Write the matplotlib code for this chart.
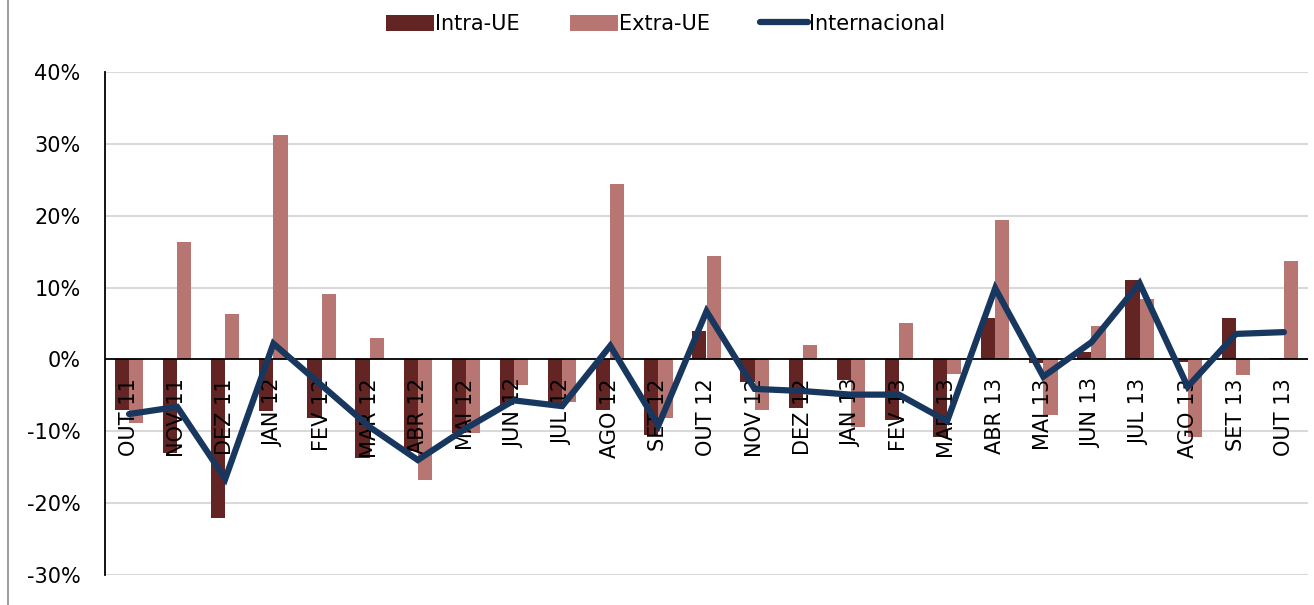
import numpy as np
import matplotlib
matplotlib.use("Agg")
import matplotlib.pyplot as plt
from matplotlib.lines import Line2D
from matplotlib.patches import Patch
from matplotlib.transforms import offset_copy

plt.rcParams['font.family'] = ['DejaVu Sans']

months = ["OUT 11", "NOV 11", "DEZ 11", "JAN 12", "FEV 12", "MAR 12", "ABR 12",
          "MAI 12", "JUN 12", "JUL 12", "AGO 12", "SET 12", "OUT 12", "NOV 12",
          "DEZ 12", "JAN 13", "FEV 13", "MAR 13", "ABR 13", "MAI 13", "JUN 13",
          "JUL 13", "AGO 13", "SET 13", "OUT 13"]

intra_ue = [-7.0, -13.0, -22.0, -7.2, -8.2, -13.7, -12.7, -10.3, -6.4, -6.5,
            -7.0, -10.5, 3.9, -3.2, -6.7, -2.9, -8.4, -10.8, 5.8, -0.5,
            1.0, 11.0, -0.4, 5.8, 0.2]

extra_ue = [-8.9, 16.3, 6.3, 31.3, 9.1, 2.95, -16.8, -10.2, -3.6, -5.9,
            24.4, -8.2, 14.4, -7.0, 2.0, -9.4, 5.1, -2.0, 19.4, -7.8,
            4.6, 8.4, -10.8, -2.1, 13.65]

internacional = [-7.6, -6.6, -16.6, 2.2, -3.6, -9.4, -14.0, -9.6, -5.7, -6.5,
                 1.9, -9.2, 6.7, -4.1, -4.4, -4.9, -4.9, -8.6, 9.9, -2.4,
                 2.4, 10.6, -3.8, 3.55, 3.8]

y_ticks = [-30, -20, -10, 0, 10, 20, 30, 40]

c_intra = "#632523"
c_extra = "#B87672"
c_line = "#17375E"

fig = plt.figure(figsize=(13.14, 6.05), dpi=100)
ax = fig.add_axes([105 / 1314, 1 - 575 / 605, 1203 / 1314, (575 - 72) / 605])

x = np.arange(len(months))
w = 0.295
ax.bar(x - w / 2, intra_ue, width=w, color=c_intra, zorder=2)
ax.bar(x + w / 2, extra_ue, width=w, color=c_extra, zorder=2)

# month labels sit just under the zero line, rotated
trans = offset_copy(ax.transData, fig=fig, x=0, y=-19, units='dots')
for xi, m in zip(x, months):
    ax.text(xi, 0, m, rotation=90, ha='center', va='top', fontsize=15,
            color='black', transform=trans, zorder=3)

ax.plot(x, internacional, color=c_line, lw=4.5, solid_capstyle='round',
        solid_joinstyle='miter', zorder=4)

ax.set_xlim(-0.5, len(months) - 0.5)
ax.set_ylim(-30, 40)
ax.set_yticks(y_ticks)
ax.set_yticklabels([f"{v}%" for v in y_ticks], fontsize=15)
ax.set_xticks([])
ax.tick_params(axis='y', length=0, pad=17.5)

for v in y_ticks:
    if v != 0:
        ax.axhline(v, color="#D9D9D9", lw=1.5, zorder=1)
ax.axhline(0, color="black", lw=1.3, zorder=2.5)

for s in ['top', 'right', 'bottom']:
    ax.spines[s].set_visible(False)
ax.spines['left'].set_color('black')
ax.spines['left'].set_linewidth(1.3)

handles = [Patch(facecolor=c_intra, edgecolor='none'),
           Patch(facecolor=c_extra, edgecolor='none'),
           Line2D([0], [0], color=c_line, lw=4.5, solid_capstyle='round')]
fig.legend(handles, ["Intra-UE", "Extra-UE", "Internacional"],
           loc='center', bbox_to_anchor=(0.5065, 1 - 24 / 605), ncol=3,
           frameon=False, fontsize=15, handlelength=2.3, handleheight=0.8,
           handletextpad=0.05, columnspacing=2.4)

# outer frame edge on the left
fig.add_artist(Line2D([8 / 1314, 8 / 1314], [0, 1], color="#8C8C8C", lw=1.2,
                      transform=fig.transFigure))

fig.savefig("out.png", dpi=100)
